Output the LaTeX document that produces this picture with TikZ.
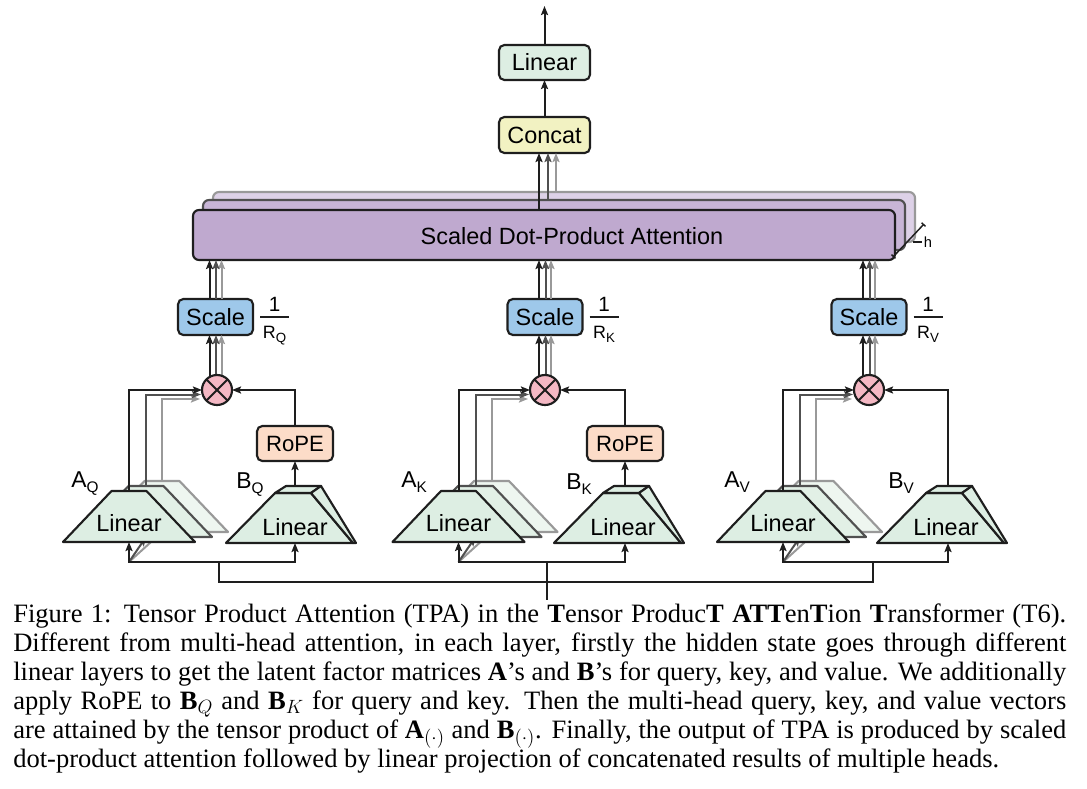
\documentclass[tikz,border=0pt]{standalone}
\usepackage{fontspec}
\setmainfont{Liberation Serif}
\newfontfamily\diagsans{Liberation Sans}
\usetikzlibrary{arrows.meta,calc}

\definecolor{lingreen}{HTML}{DDEEE3}
\definecolor{lingreenB}{HTML}{E2F0E6}
\definecolor{lingreenC}{HTML}{EEF6F0}
\definecolor{concatY}{HTML}{F2F2C2}
\definecolor{scaleB}{HTML}{9EC8EA}
\definecolor{ropeO}{HTML}{FCDCC8}
\definecolor{mulP}{HTML}{F4B8C4}
\definecolor{attP}{HTML}{BFA9CF}
\definecolor{attPb}{HTML}{C8B5D6}
\definecolor{attPc}{HTML}{DDD1E7}
\definecolor{ink}{HTML}{1E1E1E}
\definecolor{gA}{HTML}{505050}
\definecolor{gB}{HTML}{999999}

\tikzset{
  >={Stealth[length=6.8pt,width=5.3pt,inset=1.3pt]},
  txt/.style={inner sep=0pt, font=\diagsans\fontsize{17.6}{20}\selectfont},
  box/.style={draw=ink, line width=1.6pt, rounded corners=4pt, inner sep=0pt, outer sep=0pt, font=\diagsans\fontsize{17.6}{20}\selectfont},
  linbox/.style={box, fill=lingreen, minimum width=68.25pt, minimum height=26.25pt},
  concatbox/.style={box, fill=concatY, minimum width=68.25pt, minimum height=27pt},
  scalebox/.style={box, fill=scaleB, minimum width=56.25pt, minimum height=27pt},
  ropebox/.style={box, fill=ropeO, minimum width=57pt, minimum height=26.25pt, font=\diagsans\fontsize{16.6}{19}\selectfont},
  attbox/.style={line width=1.6pt, rounded corners=4.5pt, inner sep=0pt, outer sep=0pt, minimum width=526.5pt, minimum height=37.5pt},
  mulnode/.style={circle, draw=ink, fill=mulP, line width=1.6pt, minimum size=22.5pt, inner sep=0pt, outer sep=0pt},
  blk/.style={draw=ink, line width=1.5pt},
  dgr/.style={draw=gA, line width=1.5pt},
  lgr/.style={draw=gB, line width=1.5pt},
  trapA/.style={fill=lingreen, draw=ink, line width=1.6pt, line join=round},
  trapB/.style={fill=lingreenB, draw=gA, line width=1.6pt, line join=round},
  trapC/.style={fill=lingreenC, draw=gB, line width=1.6pt, line join=round},
  lbl/.style={inner sep=0pt, anchor=base west, font=\diagsans\fontsize{17.2}{19}\selectfont},
  fracnum/.style={inner sep=0pt, anchor=base, font=\diagsans\fontsize{15.5}{17}\selectfont},
  fracden/.style={inner sep=0pt, anchor=base, font=\diagsans\fontsize{13.4}{15}\selectfont},
}

% A-side stack of three Linear layers: #1 id, #2 centre x
\newcommand\Agroup[2]{%
  \filldraw[trapC] ({#2+33-66},532) -- ({#2+33+66},532) -- ({#2+33+17.5},481) -- ({#2+33-17.5},481) -- cycle;
  \filldraw[trapB] ({#2+17-66},537) -- ({#2+17+66},537) -- ({#2+17+17.5},486) -- ({#2+17-17.5},486) -- cycle;
  \coordinate (#1in) at (#2,562);
  \coordinate (#1b2) at ({#2+17},537);
  \coordinate (#1b3) at ({#2+33},532);
  \draw[lgr,->] (#1in) -- (#1b3);
  \draw[dgr,->] (#1in) -- (#1b2);
  \filldraw[trapA] ({#2-66},542) -- ({#2+66},542) -- ({#2+17.5},491) -- ({#2-17.5},491) -- cycle;
  \node[txt] (#1lin) at (#2,523) {Linear};
  \coordinate (#1t1) at (#2,491);
  \coordinate (#1t2) at ({#2+17},486);
  \coordinate (#1t3) at ({#2+33},481);
  \coordinate (#1b1) at (#2,542);
}
% B-side prism: #1 id, #2 top centre x, #3 arrow x
\newcommand\Bgroup[3]{%
  \filldraw[trapA] ({#2-67},543) -- ({#2+60},543) -- ({#2+18},493) -- ({#2-18},493) -- cycle;
  \filldraw[trapA] ({#2-18},493) -- ({#2-7},486) -- ({#2+28},486) -- ({#2+18},493) -- cycle;
  \filldraw[trapA] ({#2+18},493) -- ({#2+28},486) -- ({#2+63},543) -- ({#2+60},543) -- cycle;
  \node[txt] (#1lin) at ({#2+2},527) {Linear};
  \coordinate (#1t) at (#3,486);
  \coordinate (#1b) at (#3,543);
  \coordinate (#1in) at (#3,562);
}
% three arrows below and above a Scale box: #1 scale, #2 circle centre, #3 attention box
\newcommand\ScaleArrows[3]{%
  \coordinate (#1x1) at ($(#1.south)+(-6,0)$);
  \coordinate (#1x2) at ($(#1.south)+(0.5,0)$);
  \coordinate (#1x3) at ($(#1.south)+(6,0)$);
  \draw[lgr,<-] (#1x3) -- (#1x3 |- #2);
  \draw[dgr,<-] (#1x2) -- (#1x2 |- #2);
  \draw[blk,<-] (#1x1) -- (#1x1 |- #2);
  \coordinate (#1y1) at ($(#1.north)+(-6,0)$);
  \coordinate (#1y2) at ($(#1.north)+(0.5,0)$);
  \coordinate (#1y3) at ($(#1.north)+(6,0)$);
  \draw[lgr,->] (#1y3) -- (#1y3 |- #3.south);
  \draw[dgr,->] (#1y2) -- (#1y2 |- #3.south);
  \draw[blk,->] (#1y1) -- (#1y1 |- #3.south);
}
% fraction 1/R_x: #1 id, #2 centre x, #3 subscript
\newcommand\OneOver[3]{%
  \node[fracnum] (#1n) at (#2,311) {1};
  \coordinate (#1l) at ({#2-14.5},317);
  \coordinate (#1r) at ({#2+14.5},317);
  \draw[ink,line width=1.2pt] (#1l) -- (#1r);
  \node[fracden] (#1d) at (#2,338) {R\raisebox{-3pt}{\fontsize{10}{11}\selectfont #3}};
}
% feed lines of A stack into multiply circle: #1 id, #2 circle
\newcommand\Afeed[2]{%
  \coordinate (#1e3) at ($(#2.west)+(-2,9)$);
  \coordinate (#1e2) at ($(#2.west)+(-1,4.5)$);
  \draw[lgr,->] (#1t3) |- (#1e3);
  \draw[dgr,->] (#1t2) |- (#1e2);
  \draw[blk,->] (#1t1) |- (#2.west);
}

\begin{document}
\begin{tikzpicture}[x=0.75pt,y=-0.75pt]
\useasboundingbox (0,0) rectangle (1087,788);

% attention (three heads)
\node[attbox, fill=attPc, draw=gB] (attn3) at (564,217) {};
\node[attbox, fill=attPb, draw=gA] (attn2) at (554,225) {};
\node[attbox, fill=attP, draw=ink] (attn) at (544,235) {};
\node[txt] (attnlbl) at (572,236) {Scaled Dot-Product Attention};

% plate mark h
\coordinate (hA) at ($(attn.south east)+(-2,-3)$);
\coordinate (hB) at (924,224);
\draw[ink,line width=1.1pt,{Bar[width=4pt]}-{Bar[width=4pt]}] (hA) -- (hB);
\coordinate (hL1) at (913,242);
\coordinate (hL2) at (922,242);
\draw[ink,line width=1pt] (hL1) -- (hL2);
\node[inner sep=0pt, font=\diagsans\fontsize{11}{12}\selectfont] (hlbl) at (928,242) {h};

% top
\node[linbox] (lin) at (544.5,62.5) {Linear};
\node[concatbox] (concat) at (544.5,135) {Concat};
\coordinate (out) at (544.5,6);
\draw[blk,->] (lin.north) -- (out);
\draw[blk,->] (concat.north) -- (lin.south);
\coordinate (ca1) at ($(attn.north)+(-5,0)$);
\coordinate (ca2) at ($(attn2.north)+(-6,0)$);
\coordinate (ca3) at ($(attn3.north)+(-8,0)$);
\draw[lgr,->] (ca3) -- (ca3 |- concat.south);
\draw[dgr,->] (ca2) -- (ca2 |- concat.south);
\draw[blk,->] (ca1) -- (ca1 |- concat.south);

% scale boxes
\node[scalebox] (sq) at (215.5,317) {Scale};
\node[scalebox] (sk) at (545,317) {Scale};
\node[scalebox] (sv) at (869,317) {Scale};
\OneOver{fq}{274.5}{Q}
\OneOver{fk}{604}{K}
\OneOver{fv}{928}{V}

% multiply circles
\coordinate (mqc) at (217,390);
\coordinate (mkc) at (545,390);
\coordinate (mvc) at (869,390);
\ScaleArrows{sq}{mqc}{attn}
\ScaleArrows{sk}{mkc}{attn}
\ScaleArrows{sv}{mvc}{attn}
\foreach \m in {mq,mk,mv}{
  \node[mulnode] (\m) at (\m c) {};
  \draw[ink,line width=1.4pt] (\m.north west) -- (\m.south east) (\m.north east) -- (\m.south west);
}

% RoPE
\node[ropebox] (rq) at (295,443.5) {RoPE};
\node[ropebox] (rk) at (625,443.5) {RoPE};

% Linear layers
\Agroup{aq}{129}
\Agroup{ak}{458.5}
\Agroup{av}{783}
\Bgroup{bq}{293}{295}
\Bgroup{bk}{621}{625}
\Bgroup{bv}{944}{948}

% labels
\node[lbl] (laq) at (71,487) {A\raisebox{-4pt}{\fontsize{11.5}{12}\selectfont Q}};
\node[lbl] (lbq) at (236,488) {B\raisebox{-4pt}{\fontsize{11.5}{12}\selectfont Q}};
\node[lbl] (lak) at (401,487) {A\raisebox{-4pt}{\fontsize{11.5}{12}\selectfont K}};
\node[lbl] (lbk) at (566,489) {B\raisebox{-4pt}{\fontsize{11.5}{12}\selectfont K}};
\node[lbl] (lav) at (724,487) {A\raisebox{-4pt}{\fontsize{11.5}{12}\selectfont V}};
\node[lbl] (lbv) at (888,488) {B\raisebox{-4pt}{\fontsize{11.5}{12}\selectfont V}};

% feeds into multiply
\Afeed{aq}{mq}
\Afeed{ak}{mk}
\Afeed{av}{mv}
\draw[blk,->] (bqt) -- (bqt |- rq.south);
\draw[blk,->] (rq.north) |- (mq.east);
\draw[blk,->] (bkt) -- (bkt |- rk.south);
\draw[blk,->] (rk.north) |- (mk.east);
\draw[blk,->] (bvt) |- (mv.east);

% input wiring
\draw[blk,<->] (aqb1) -- (aqin) -- (bqin) -- (bqb);
\draw[blk,<->] (akb1) -- (akin) -- (bkin) -- (bkb);
\draw[blk,<->] (avb1) -- (avin) -- (bvin) -- (bvb);
\coordinate (dq) at (219,562);
\coordinate (dk) at (547,562);
\coordinate (dv) at (873,562);
\coordinate (lb) at (547,582);
\coordinate (src) at (547,600);
\draw[blk] (dq) |- (lb) -| (dv);
\draw[blk] (dk) -- (src);

% caption
\node[anchor=base west, inner sep=0pt, text width=789.75pt, align=justify,
      font=\fontsize{19.9}{21.86}\selectfont] (cap) at (13,622) {%
\hyphenpenalty=10000\exhyphenpenalty=10000\tolerance=9999\emergencystretch=10pt
Figure 1: Tensor Product Attention (TPA) in the \textbf{T}ensor Produc\textbf{T} \textbf{ATT}en\textbf{T}ion \textbf{T}ransformer (T6).\linebreak
Different from multi-head attention, in each layer, firstly the hidden state goes through different\linebreak
linear layers to get the latent factor matrices $\mathbf{A}$'s and $\mathbf{B}$'s for query, key, and value. We additionally\linebreak
apply RoPE to $\mathbf{B}_Q$ and $\mathbf{B}_K$ for query and key. Then the multi-head query, key, and value vectors\linebreak
are attained by the tensor product of $\mathbf{A}_{(\cdot)}$ and $\mathbf{B}_{(\cdot)}$. Finally, the output of TPA is produced by scaled\linebreak
dot-product attention followed by linear projection of concatenated results of multiple heads.};
\end{tikzpicture}
\end{document}
